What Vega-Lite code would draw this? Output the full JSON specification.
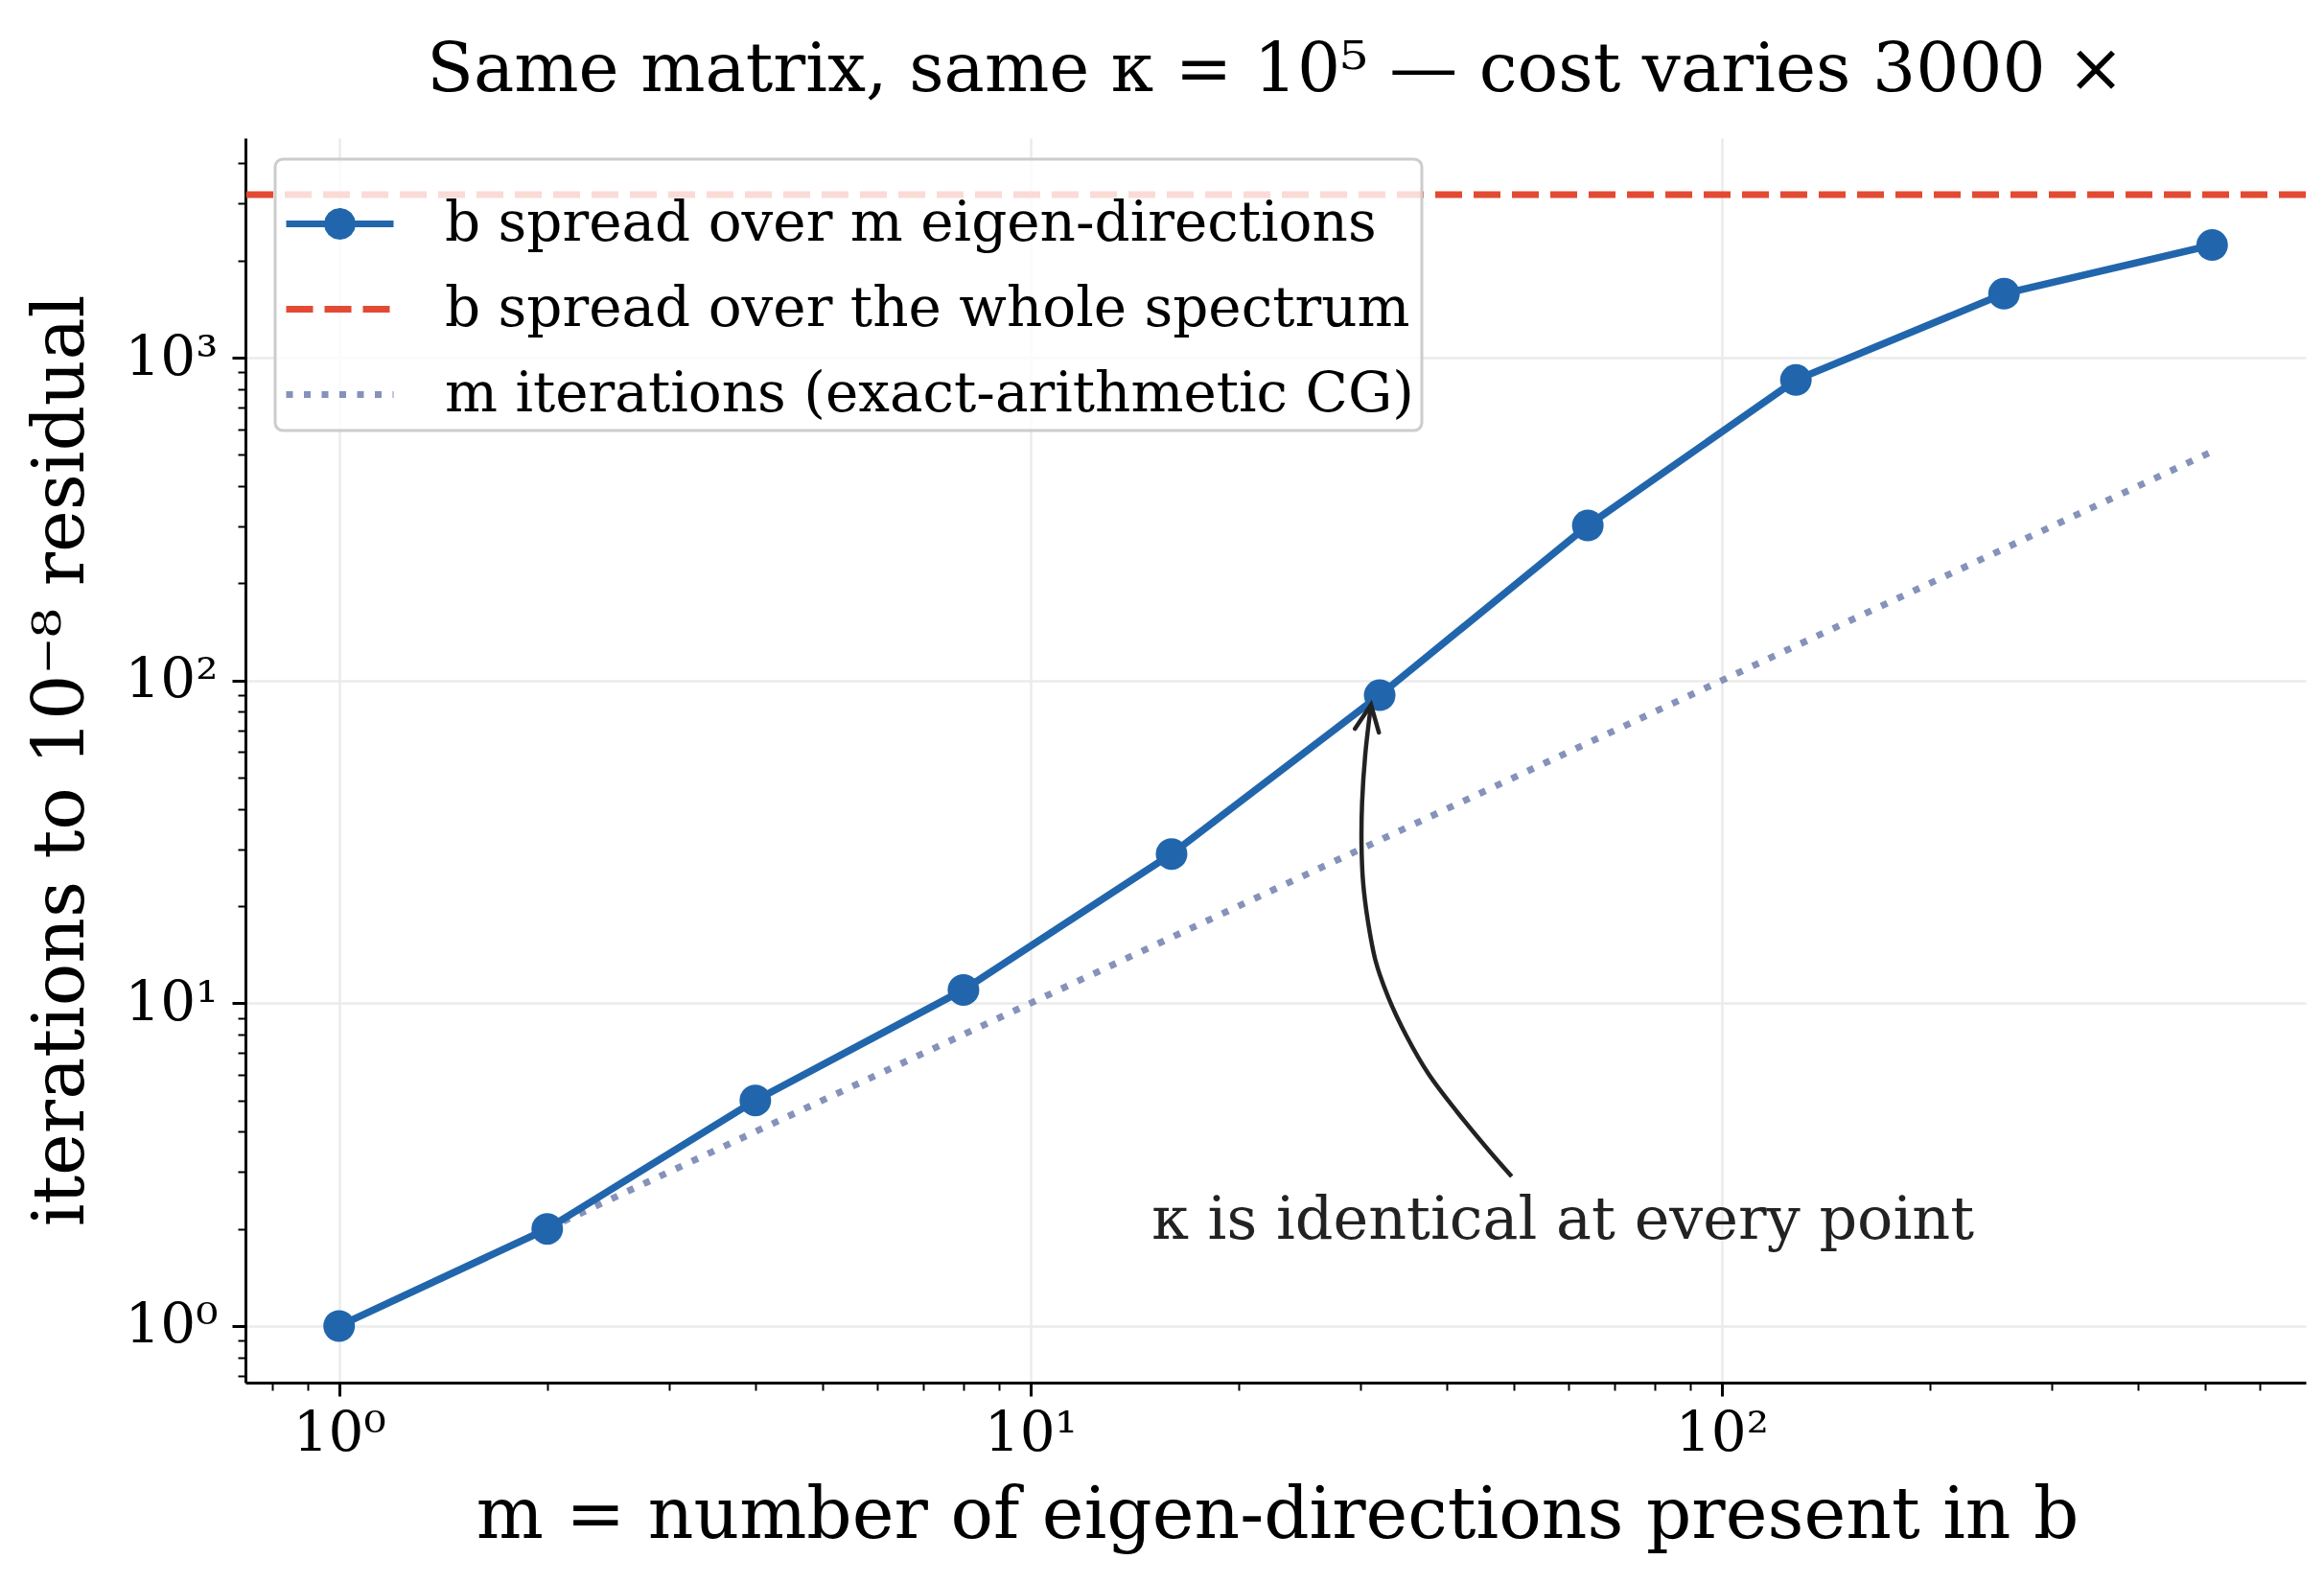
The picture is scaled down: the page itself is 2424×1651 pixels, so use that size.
{
  "$schema": "https://vega.github.io/schema/vega-lite/v6.json",
  "width": 2149,
  "height": 1298,
  "autosize": {"type": "none"},
  "padding": {"left": 256, "top": 144, "right": 19, "bottom": 209},
  "background": "white",
  "config": {"view": {"stroke": null}, "font": "DejaVu Serif"},
  "title": {
    "text": "Same matrix, same κ = 10⁵ — cost varies 3000 ×",
    "font": "DejaVu Serif",
    "fontSize": 71,
    "fontWeight": "normal",
    "color": "black",
    "anchor": "middle",
    "frame": "group",
    "baseline": "alphabetic",
    "offset": 50,
    "dy": 75
  },
  "datasets": {
    "cg": [
      {"m": 1, "iters": 1, "series": "b spread over m eigen-directions"},
      {"m": 2, "iters": 2, "series": "b spread over m eigen-directions"},
      {"m": 4, "iters": 5, "series": "b spread over m eigen-directions"},
      {"m": 8, "iters": 11, "series": "b spread over m eigen-directions"},
      {"m": 16, "iters": 29, "series": "b spread over m eigen-directions"},
      {"m": 32, "iters": 90, "series": "b spread over m eigen-directions"},
      {"m": 64, "iters": 302, "series": "b spread over m eigen-directions"},
      {"m": 128, "iters": 853, "series": "b spread over m eigen-directions"},
      {"m": 256, "iters": 1578, "series": "b spread over m eigen-directions"},
      {"m": 512, "iters": 2234, "series": "b spread over m eigen-directions"}
    ],
    "ideal": [
      {"m": 2, "iters": 2, "series": "m iterations (exact-arithmetic CG)"},
      {"m": 4, "iters": 4, "series": "m iterations (exact-arithmetic CG)"},
      {"m": 8, "iters": 8, "series": "m iterations (exact-arithmetic CG)"},
      {"m": 16, "iters": 16, "series": "m iterations (exact-arithmetic CG)"},
      {"m": 32, "iters": 32, "series": "m iterations (exact-arithmetic CG)"},
      {"m": 64, "iters": 64, "series": "m iterations (exact-arithmetic CG)"},
      {"m": 128, "iters": 128, "series": "m iterations (exact-arithmetic CG)"},
      {"m": 256, "iters": 256, "series": "m iterations (exact-arithmetic CG)"},
      {"m": 512, "iters": 512, "series": "m iterations (exact-arithmetic CG)"}
    ],
    "whole": [
      {"iters": 3200, "series": "b spread over the whole spectrum"}
    ],
    "arrow": [
      {"k": 0, "m": 49.67, "iters": 2.906},
      {"k": 1, "m": 46.05, "iters": 3.496},
      {"k": 2, "m": 41.45, "iters": 4.596},
      {"k": 3, "m": 37.65, "iters": 6.041},
      {"k": 4, "m": 34.96, "iters": 7.944},
      {"k": 5, "m": 32.93, "iters": 10.44},
      {"k": 6, "m": 31.59, "iters": 13.45},
      {"k": 7, "m": 30.76, "iters": 18.05},
      {"k": 8, "m": 30.28, "iters": 23.73},
      {"k": 9, "m": 30.12, "iters": 31.2},
      {"k": 10, "m": 30.18, "iters": 41.86},
      {"k": 11, "m": 30.5, "iters": 58.95},
      {"k": 12, "m": 31.09, "iters": 84.1}
    ],
    "tip": [
      {"m": 31.09, "iters": 84.1}
    ],
    "note": [
      {"m": 58.9, "iters": 1.862, "text": "κ is identical at every point"}
    ]
  },
  "layer": [
    {
      "data": {"name": "whole"},
      "mark": {"type": "rule", "strokeWidth": 7, "strokeDash": [28, 12], "strokeCap": "butt"},
      "encoding": {
        "y": {
          "field": "iters", "type": "quantitative",
          "scale": {"type": "log", "domain": [0.6678, 4791], "nice": false, "zero": false},
          "axis": {
            "title": "iterations to 10⁻⁸ residual",
            "titleFont": "DejaVu Serif", "titleFontSize": 74, "titleFontWeight": "normal", "titleColor": "black",
            "titleX": -170, "titleY": 649, "titleAngle": -90, "titleAlign": "center", "titleBaseline": "alphabetic",
            "values": [0.7, 0.8, 0.9, 1, 2, 3, 4, 5, 6, 7, 8, 9, 10, 20, 30, 40, 50, 60, 70, 80, 90, 100, 200, 300, 400, 500, 600, 700, 800, 900, 1000, 2000, 3000, 4000],
            "labelExpr": "datum.value === 1 ? '10⁰' : datum.value === 10 ? '10¹' : datum.value === 100 ? '10²' : datum.value === 1000 ? '10³' : ''",
            "labelFont": "DejaVu Serif", "labelFontSize": 58, "labelColor": "black", "labelPadding": 15,
            "labelOverlap": false, "labelBound": false, "labelFlush": false, "labelBaseline": "middle",
            "domainColor": "black", "domainWidth": 3,
            "tickColor": "black",
            "tickSize": {"condition": {"test": "indexof([1,10,100,1000], datum.value) >= 0", "value": 14}, "value": 8},
            "tickWidth": {"condition": {"test": "indexof([1,10,100,1000], datum.value) >= 0", "value": 3}, "value": 2},
            "grid": true, "gridColor": "#ebebeb", "gridWidth": 2.5,
            "gridOpacity": {"condition": {"test": "indexof([1,10,100,1000], datum.value) >= 0", "value": 1}, "value": 0}
          }
        },
        "color": {
          "field": "series", "type": "nominal",
          "scale": {
            "domain": ["b spread over m eigen-directions", "b spread over the whole spectrum", "m iterations (exact-arithmetic CG)"],
            "range": ["#2166ac", "#e34a33", "#8592ba"]
          },
          "legend": {
            "title": null,
            "orient": "none",
            "legendX": 31,
            "legendY": 22,
            "fillColor": "rgba(255,255,255,0.8)",
            "strokeColor": "#cccccc",
            "cornerRadius": 8,
            "padding": 8,
            "labelFont": "DejaVu Serif",
            "labelFontSize": 58,
            "labelColor": "black",
            "labelLimit": 0,
            "labelOffset": 50,
            "labelBaseline": "middle",
            "symbolType": "stroke",
            "symbolSize": 12544,
            "symbolStrokeWidth": 7,
            "rowPadding": 0,
            "encode": {
              "legend": {"update": {"strokeWidth": {"value": 3}}},
              "symbols": {
                "update": {
                  "shape": {"signal": "datum.value === 'b spread over m eigen-directions' ? 'M-1,0L1,0M0.232,0L0.214,0.089L0.164,0.164L0.089,0.214L0,0.232L-0.089,0.214L-0.164,0.164L-0.214,0.089L-0.232,0L-0.214,-0.089L-0.164,-0.164L-0.089,-0.214L0,-0.232L0.089,-0.214L0.164,-0.164L0.214,-0.089Z' : 'stroke'"},
                  "fill": {"signal": "datum.value === 'b spread over m eigen-directions' ? '#2166ac' : 'transparent'"},
                  "strokeDash": {"signal": "datum.value === 'b spread over the whole spectrum' ? [28,12] : datum.value === 'm iterations (exact-arithmetic CG)' ? [7,11.5] : [1,0]"},
                  "strokeCap": {"value": "butt"},
                  "size": {"value": 12544},
                  "strokeWidth": {"value": 7},
                  "opacity": {"value": 1}
                }
              }
            }
          }
        }
      }
    },
    {
      "data": {"name": "ideal"},
      "mark": {"type": "line", "strokeWidth": 7, "strokeDash": [7, 11.5], "strokeCap": "butt"},
      "encoding": {
        "x": {
          "field": "m", "type": "quantitative",
          "scale": {"type": "log", "domain": [0.732, 699.4], "nice": false, "zero": false},
          "axis": {
            "title": "m = number of eigen-directions present in b",
            "titleFont": "DejaVu Serif", "titleFontSize": 74, "titleFontWeight": "normal", "titleColor": "black",
            "titleX": 1076, "titleY": 161, "titleAlign": "center", "titleBaseline": "alphabetic",
            "values": [0.8, 0.9, 1, 2, 3, 4, 5, 6, 7, 8, 9, 10, 20, 30, 40, 50, 60, 70, 80, 90, 100, 200, 300, 400, 500, 600],
            "labelExpr": "datum.value === 1 ? '10⁰' : datum.value === 10 ? '10¹' : datum.value === 100 ? '10²' : ''",
            "labelFont": "DejaVu Serif", "labelFontSize": 58, "labelColor": "black", "labelPadding": 56,
            "labelOverlap": false, "labelBound": false, "labelFlush": false, "labelBaseline": "alphabetic",
            "domainColor": "black", "domainWidth": 3,
            "tickColor": "black",
            "tickSize": {"condition": {"test": "indexof([1,10,100,1000], datum.value) >= 0", "value": 14}, "value": 8},
            "tickWidth": {"condition": {"test": "indexof([1,10,100,1000], datum.value) >= 0", "value": 3}, "value": 2},
            "grid": true, "gridColor": "#ebebeb", "gridWidth": 2.5,
            "gridOpacity": {"condition": {"test": "indexof([1,10,100,1000], datum.value) >= 0", "value": 1}, "value": 0}
          }
        },
        "y": {"field": "iters", "type": "quantitative", "scale": {"type": "log", "domain": [0.6678, 4791], "nice": false, "zero": false}},
        "color": {"field": "series", "type": "nominal"}
      }
    },
    {
      "data": {"name": "cg"},
      "mark": {"type": "line", "strokeWidth": 7.5, "point": {"filled": true, "size": 1089, "opacity": 1}},
      "encoding": {
        "x": {"field": "m", "type": "quantitative", "scale": {"type": "log", "domain": [0.732, 699.4], "nice": false, "zero": false}},
        "y": {"field": "iters", "type": "quantitative", "scale": {"type": "log", "domain": [0.6678, 4791], "nice": false, "zero": false}},
        "color": {"field": "series", "type": "nominal"}
      }
    },
    {
      "data": {"name": "arrow"},
      "mark": {"type": "line", "color": "#222222", "strokeWidth": 4.5, "interpolate": "catmull-rom"},
      "encoding": {
        "x": {"field": "m", "type": "quantitative", "scale": {"type": "log", "domain": [0.732, 699.4], "nice": false, "zero": false}},
        "y": {"field": "iters", "type": "quantitative", "scale": {"type": "log", "domain": [0.6678, 4791], "nice": false, "zero": false}},
        "order": {"field": "k", "type": "quantitative"}
      }
    },
    {
      "data": {"name": "tip"},
      "mark": {"type": "point", "shape": "M-0.42,0.91L0,0L0.42,0.91", "filled": false, "stroke": "#222222", "strokeWidth": 4.5, "size": 3600, "angle": 9, "opacity": 1, "strokeCap": "round"},
      "encoding": {
        "x": {"field": "m", "type": "quantitative", "scale": {"type": "log", "domain": [0.732, 699.4], "nice": false, "zero": false}},
        "y": {"field": "iters", "type": "quantitative", "scale": {"type": "log", "domain": [0.6678, 4791], "nice": false, "zero": false}}
      }
    },
    {
      "data": {"name": "note"},
      "mark": {"type": "text", "font": "DejaVu Serif", "fontSize": 62, "color": "#222222", "align": "center", "baseline": "alphabetic"},
      "encoding": {
        "x": {"field": "m", "type": "quantitative", "scale": {"type": "log", "domain": [0.732, 699.4], "nice": false, "zero": false}},
        "y": {"field": "iters", "type": "quantitative", "scale": {"type": "log", "domain": [0.6678, 4791], "nice": false, "zero": false}},
        "text": {"field": "text", "type": "nominal"}
      }
    }
  ]
}
